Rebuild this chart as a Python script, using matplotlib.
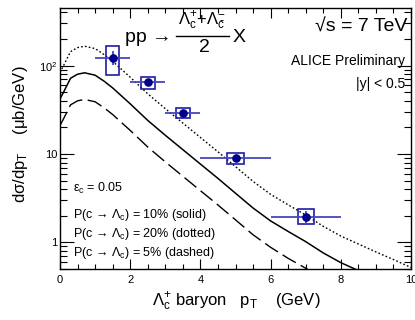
import numpy as np
import matplotlib
matplotlib.use("Agg")
import matplotlib.pyplot as plt
from matplotlib.patches import Rectangle
from matplotlib.ticker import LogLocator, MultipleLocator, FixedLocator, FixedFormatter, NullFormatter

plt.rcParams['font.family'] = ['Liberation Sans', 'DejaVu Sans']
plt.rcParams['mathtext.fontset'] = 'custom'
plt.rcParams['mathtext.rm'] = 'Liberation Sans'
plt.rcParams['mathtext.it'] = 'Liberation Sans'
plt.rcParams['mathtext.bf'] = 'Liberation Sans:bold'

# ---- model curves ----
model_pt = [0.0, 0.1, 0.3, 0.5, 0.7, 1.0, 1.25, 1.5, 2.0, 2.5, 3.0, 3.5, 4.0, 4.5,
            5.0, 5.5, 6.0, 6.5, 7.0, 7.5, 8.0, 8.5, 9.0, 9.5, 10.0]
solid_10 = [42, 50, 72, 80, 83, 78, 67, 56, 37, 24, 16.3, 11.2, 7.7, 5.3,
            3.6, 2.45, 1.75, 1.33, 1.02, 0.76, 0.59, 0.48, 0.39, 0.32, 0.26]
dotted_20 = [84, 100, 144, 160, 166, 156, 134, 112, 74, 48, 32.6, 22.4, 15.4, 10.6,
             7.2, 4.9, 3.5, 2.66, 2.04, 1.52, 1.18, 0.96, 0.78, 0.64, 0.52]
dashed_5 = [21, 25, 36, 40, 41.5, 39, 33.5, 28, 18.5, 12, 8.15, 5.6, 3.85, 2.65,
            1.8, 1.22, 0.88, 0.66, 0.51, 0.38, 0.30, 0.24, 0.20, 0.16, 0.13]

# ---- data points ----
data_pt = [1.5, 2.5, 3.5, 5.0, 7.0]
data_xerr = [0.5, 0.5, 0.5, 1.0, 1.0]
data_y = [122, 65, 29.1, 8.9, 1.93]
stat_lo = [19, 4, 2.0, 0.5, 0.3]
stat_hi = [23, 4, 2.0, 0.5, 0.35]
sys_lo = [43, 10.3, 3.7, 1.1, 0.30]
sys_hi = [43, 9.6, 4.4, 1.3, 0.46]
sys_halfwidth = [0.19, 0.2, 0.2, 0.23, 0.23]

W, H = 415, 320
fig = plt.figure(figsize=(W/100, H/100), dpi=100)
L, R, T, B = 60, 411, 7.5, 269
ax = fig.add_axes([L/W, 1-B/H, (R-L)/W, (B-T)/H])

ax.plot(model_pt, solid_10, color='black', lw=1.1)
ax.plot(model_pt, dotted_20, color='black', lw=1.0, linestyle=(0, (1.2, 1.6)))
ax.plot(model_pt, dashed_5, color='black', lw=1.0, linestyle=(0, (11, 4)))

box_col = '#1c1ca8'
err_col = '#4646be'
mk_col = '#00008a'
for x, xe, y, sl, sh, hw in zip(data_pt, data_xerr, data_y, sys_lo, sys_hi, sys_halfwidth):
    ax.add_patch(Rectangle((x-hw, y-sl), 2*hw, sl+sh, fill=False, ec=box_col, lw=1.2, zorder=3))
ax.errorbar(data_pt, data_y, xerr=data_xerr, yerr=[stat_lo, stat_hi], fmt='none',
            ecolor=err_col, elinewidth=1.3, capsize=0, zorder=4)
ax.plot(data_pt, data_y, 'o', color=mk_col, ms=5.2, zorder=5)

ax.set_yscale('log')
ax.set_xlim(0, 10)
ax.set_ylim(0.5, 455)

ax.xaxis.set_major_locator(MultipleLocator(2))
ax.xaxis.set_minor_locator(MultipleLocator(0.5))
ax.yaxis.set_major_locator(FixedLocator([1, 10, 100]))
ax.yaxis.set_major_formatter(FixedFormatter(['1', '10', r'10$^{2}$']))
ax.yaxis.set_minor_locator(LogLocator(base=10, subs=np.arange(2, 10)))
ax.yaxis.set_minor_formatter(NullFormatter())

ax.tick_params(which='both', direction='in', top=True, right=True, labelsize=8, colors='black')
ax.tick_params(axis='x', which='major', length=7, width=0.8, pad=4)
ax.tick_params(axis='x', which='minor', length=3.5, width=0.8)
ax.tick_params(axis='y', which='major', length=10, width=0.8, pad=2)
ax.tick_params(axis='y', which='minor', length=5, width=0.8)
for s in ax.spines.values():
    s.set_linewidth(1.0)
# keep the last x tick label inside the figure
ax.get_xticklabels()[-1].set_horizontalalignment('center')

def ftext(x, y, s, **kw):
    fig.text(x/W, 1-y/H, s, **kw)

# header reaction
ftext(148, 37, 'pp →', fontsize=14, ha='center', va='center')
ftext(202, 21, r'$\Lambda_{c}^{+}$+$\Lambda_{\bar{c}}^{-}$', fontsize=12, ha='center', va='center')
fig.add_artist(plt.Line2D([176/W, 229/W], [1-35.5/H, 1-35.5/H], color='black', lw=1.0))
ftext(204, 48, '2', fontsize=14, ha='center', va='center')
ftext(239, 37, 'X', fontsize=14, ha='center', va='center')

ftext(407, 27, '√s = 7 TeV', fontsize=14, ha='right', va='center')
ftext(405, 61, 'ALICE Preliminary', fontsize=10, ha='right', va='center')
ftext(405, 84, '|y| < 0.5', fontsize=10, ha='right', va='center')

ftext(73, 188, r'$\epsilon_{c}$ = 0.05', fontsize=9, ha='left', va='center')
ftext(73, 215, r'P(c → $\Lambda_{c}$) = 10% (solid)', fontsize=9, ha='left', va='center')
ftext(73, 234, r'P(c → $\Lambda_{c}$) = 20% (dotted)', fontsize=9, ha='left', va='center')
ftext(73, 253, r'P(c → $\Lambda_{c}$) = 5% (dashed)', fontsize=9, ha='left', va='center')

ftext(20, 134, r'd$\sigma$/dp$_{T}$    ($\mu$b/GeV)', fontsize=12, ha='center', va='center', rotation=90)
ftext(236, 302, r'$\Lambda_{c}^{+}$ baryon   p$_{T}$    (GeV)', fontsize=12, ha='center', va='center')

fig.savefig('out.png', dpi=100)
